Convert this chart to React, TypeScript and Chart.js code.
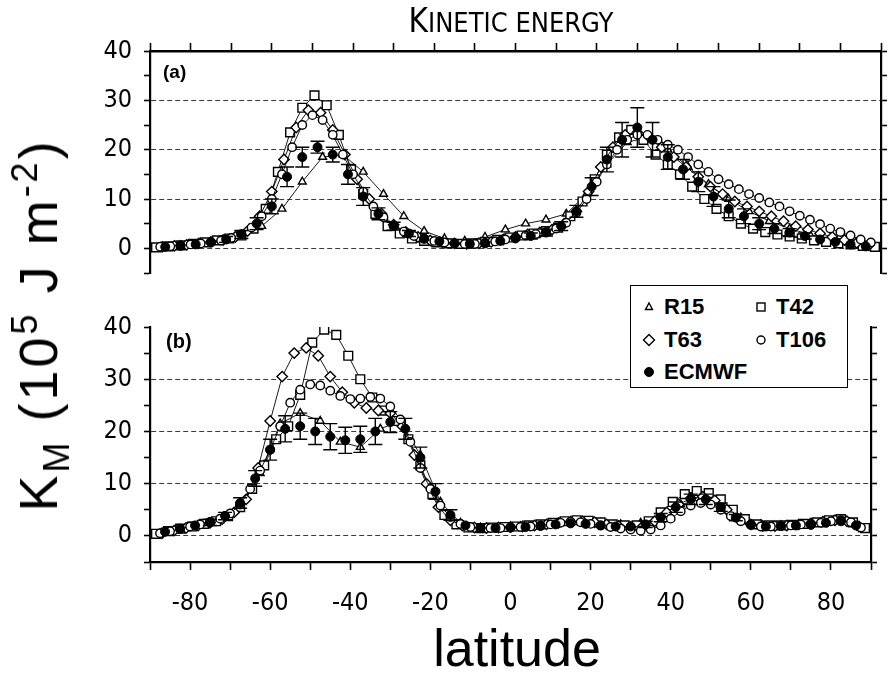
import React, { useEffect, useRef } from 'react';
import { Chart, registerables } from 'chart.js';

Chart.register(...registerables);

const FONT = "'Liberation Sans', Arial, Helvetica, sans-serif";
const NARROW = "'Liberation Sans Narrow', 'DejaVu Sans Condensed', 'Liberation Sans', sans-serif";

// ---------------- latitude grids ----------------
const latR15 = [-87.5, -82.5, -77.5, -72.5, -67.5, -62.5, -57.5, -52.5, -47.5, -42.5, -37.5, -32.5, -27.5, -22.5, -17.5, -12.5, -7.5, -2.5, 2.5, 7.5, 12.5, 17.5, 22.5, 27.5, 32.5, 37.5, 42.5, 47.5, 52.5, 57.5, 62.5, 67.5, 72.5, 77.5, 82.5, 87.5];
const latT42 = [-88.5, -85.5, -82.5, -79.5, -76.5, -73.5, -70.5, -67.5, -64.5, -61.5, -58.5, -55.5, -52.5, -49.5, -46.5, -43.5, -40.5, -37.5, -34.5, -31.5, -28.5, -25.5, -22.5, -19.5, -16.5, -13.5, -10.5, -7.5, -4.5, -1.5, 1.5, 4.5, 7.5, 10.5, 13.5, 16.5, 19.5, 22.5, 25.5, 28.5, 31.5, 34.5, 37.5, 40.5, 43.5, 46.5, 49.5, 52.5, 55.5, 58.5, 61.5, 64.5, 67.5, 70.5, 73.5, 76.5, 79.5, 82.5, 85.5, 88.5];
const latT63 = [-87, -84, -81, -78, -75, -72, -69, -66, -63, -60, -57, -54, -51, -48, -45, -42, -39, -36, -33, -30, -27, -24, -21, -18, -15, -12, -9, -6, -3, 0, 3, 6, 9, 12, 15, 18, 21, 24, 27, 30, 33, 36, 39, 42, 45, 48, 51, 54, 57, 60, 63, 66, 69, 72, 75, 78, 81, 84, 87];
const latT106 = [-87.5, -85, -82.5, -80, -77.5, -75, -72.5, -70, -67.5, -65, -62.5, -60, -57.5, -55, -52.5, -50, -47.5, -45, -42.5, -40, -37.5, -35, -32.5, -30, -27.5, -25, -22.5, -20, -17.5, -15, -12.5, -10, -7.5, -5, -2.5, 0, 2.5, 5, 7.5, 10, 12.5, 15, 17.5, 20, 22.5, 25, 27.5, 30, 32.5, 35, 37.5, 40, 42.5, 45, 47.5, 50, 52.5, 55, 57.5, 60, 62.5, 65, 67.5, 70, 72.5, 75, 77.5, 80, 82.5, 85, 87.5];
const latECMWF = [-86.25, -82.5, -78.75, -75, -71.25, -67.5, -63.75, -60, -56.25, -52.5, -48.75, -45, -41.25, -37.5, -33.75, -30, -26.25, -22.5, -18.75, -15, -11.25, -7.5, -3.75, 0, 3.75, 7.5, 11.25, 15, 18.75, 22.5, 26.25, 30, 33.75, 37.5, 41.25, 45, 48.75, 52.5, 56.25, 60, 63.75, 67.5, 71.25, 75, 78.75, 82.5, 86.25];

// ---------------- panel (a) ----------------
const r15A = [0.3, 0.6, 1.0, 1.5, 2.5, 4.5, 8.0, 13.5, 18.5, 19.0, 15.5, 11.0, 6.5, 3.5, 2.0, 1.5, 2.3, 3.8, 5.0, 5.8, 7.0, 11.0, 17.0, 21.5, 22.5, 20.0, 16.5, 13.0, 10.0, 7.5, 5.5, 4.0, 2.8, 1.8, 1.0, 0.5];
const t42A = [0.2, 0.4, 0.6, 0.9, 1.2, 1.6, 2.0, 2.6, 4.0, 8.0, 15.5, 23.5, 28.5, 31.0, 29.0, 23.0, 16.0, 11.0, 7.0, 4.5, 3.0, 2.0, 1.5, 1.2, 1.0, 0.9, 1.0, 1.3, 1.7, 2.2, 2.6, 3.0, 3.5, 4.2, 6.5, 9.5, 14.0, 19.0, 22.5, 24.0, 22.0, 19.0, 17.0, 15.0, 12.5, 10.0, 8.0, 6.5, 5.0, 4.0, 3.3, 2.8, 2.4, 2.0, 1.6, 1.3, 1.0, 0.8, 0.5, 0.3];
const t63A = [0.3, 0.5, 0.7, 1.0, 1.3, 1.7, 2.3, 3.5, 6.5, 11.5, 18.0, 24.5, 28.0, 27.5, 24.0, 19.0, 14.0, 10.0, 7.0, 4.8, 3.3, 2.3, 1.6, 1.2, 1.0, 0.9, 1.0, 1.3, 1.8, 2.3, 2.8, 3.2, 3.8, 5.0, 7.5, 11.5, 16.5, 20.5, 23.0, 23.5, 22.5, 20.5, 18.5, 16.5, 14.5, 12.5, 11.0, 9.5, 8.5, 7.5, 6.5, 5.5, 4.5, 3.8, 3.0, 2.3, 1.7, 1.1, 0.6];
const t106A = [0.3, 0.4, 0.6, 0.8, 1.0, 1.3, 1.6, 2.1, 2.9, 4.2, 6.5, 10.0, 15.0, 20.5, 25.0, 27.0, 26.0, 23.0, 19.0, 15.0, 11.5, 8.5, 6.3, 4.6, 3.4, 2.5, 1.9, 1.5, 1.2, 1.0, 0.9, 0.9, 1.1, 1.4, 1.8, 2.2, 2.6, 2.9, 3.3, 4.0, 5.2, 7.2, 10.0, 13.5, 17.0, 20.0, 22.0, 23.0, 23.0, 22.0, 21.0, 20.0, 18.5, 17.0, 15.5, 14.0, 13.0, 12.0, 11.0, 10.2, 9.3, 8.5, 7.5, 6.6, 5.8, 4.9, 4.0, 3.3, 2.6, 1.8, 1.2];
const ecmwfA = [0.3, 0.5, 0.8, 1.2, 1.8, 2.8, 5.0, 8.5, 14.5, 18.5, 20.5, 19.0, 15.0, 10.5, 7.0, 4.5, 3.0, 2.0, 1.4, 1.0, 0.9, 1.0, 1.5, 2.0, 2.5, 3.2, 4.5, 7.5, 12.5, 18.0, 22.0, 24.5, 22.0, 18.5, 16.0, 13.5, 10.5, 8.0, 6.5, 5.0, 4.0, 3.2, 2.5, 1.8, 1.3, 0.8, 0.4];
const ecmwfErrA = [0.3, 0.3, 0.4, 0.5, 0.6, 0.8, 1.2, 1.5, 2.0, 2.0, 1.2, 1.5, 2.0, 1.8, 1.2, 0.8, 0.6, 0.4, 0.3, 0.3, 0.3, 0.3, 0.4, 0.5, 0.6, 0.7, 0.9, 1.2, 1.8, 2.5, 3.5, 4.0, 3.5, 2.5, 2.0, 2.0, 2.0, 1.8, 1.5, 1.2, 1.0, 0.8, 0.6, 0.5, 0.4, 0.3, 0.3];

// ---------------- panel (b) ----------------
const r15B = [0.5, 1.2, 2.0, 3.0, 5.5, 12.0, 21.5, 23.5, 22.0, 18.0, 17.0, 20.5, 22.0, 15.5, 6.5, 2.5, 1.6, 1.6, 1.8, 2.0, 2.5, 2.8, 2.5, 2.2, 2.5, 4.0, 6.0, 7.0, 6.0, 3.5, 2.2, 2.0, 2.2, 2.5, 3.0, 1.5];
const t42B = [0.4, 0.9, 1.4, 1.8, 2.3, 2.8, 3.8, 5.5, 9.0, 13.5, 18.5, 21.0, 27.0, 37.0, 39.5, 38.5, 34.5, 30.0, 26.5, 24.0, 22.0, 18.5, 13.5, 8.0, 4.0, 2.2, 1.6, 1.5, 1.6, 1.7, 1.8, 2.0, 2.2, 2.5, 2.8, 3.0, 2.9, 2.6, 2.2, 2.0, 2.0, 2.8, 4.5, 6.5, 8.0, 8.6, 8.2, 7.0, 5.0, 3.2, 2.2, 2.0, 2.0, 2.1, 2.3, 2.6, 3.0, 3.2, 2.6, 1.5];
const t63B = [0.5, 1.0, 1.5, 2.0, 2.5, 3.2, 4.5, 7.0, 13.0, 22.0, 30.5, 35.0, 36.0, 34.5, 30.5, 27.5, 25.5, 24.5, 24.0, 23.5, 21.0, 15.5, 10.0, 5.5, 3.0, 2.0, 1.6, 1.5, 1.6, 1.7, 1.8, 2.0, 2.2, 2.5, 2.7, 2.8, 2.6, 2.2, 1.9, 1.7, 1.8, 2.8, 4.5, 6.0, 7.2, 7.5, 6.8, 5.0, 3.2, 2.2, 1.9, 1.9, 2.0, 2.2, 2.4, 2.7, 3.0, 2.8, 1.8];
const t106B = [0.5, 0.9, 1.3, 1.8, 2.2, 2.7, 3.3, 4.3, 6.0, 9.0, 12.5, 16.5, 21.0, 25.5, 28.0, 29.0, 28.8, 27.8, 26.8, 26.2, 26.3, 26.6, 26.3, 24.8, 22.3, 18.0, 13.0, 9.0, 5.8, 3.6, 2.3, 1.7, 1.5, 1.5, 1.5, 1.6, 1.7, 1.8, 2.0, 2.2, 2.5, 2.7, 2.6, 2.3, 2.0, 1.7, 1.4, 1.2, 1.0, 1.2, 2.0, 3.3, 4.7, 5.8, 6.3, 6.0, 5.0, 3.8, 2.8, 2.1, 1.8, 1.8, 1.9, 2.0, 2.2, 2.3, 2.5, 2.8, 3.0, 2.6, 1.6];
const ecmwfB = [0.8, 1.4, 2.0, 2.6, 3.8, 6.3, 11.0, 16.5, 20.5, 21.0, 20.0, 19.0, 18.3, 18.5, 20.0, 21.8, 20.5, 15.0, 8.5, 4.0, 2.0, 1.5, 1.5, 1.6, 1.7, 1.9, 2.2, 2.4, 2.3, 2.0, 1.8, 1.8, 2.2, 3.5, 5.5, 7.0, 7.0, 5.5, 3.5, 2.2, 1.8, 1.9, 2.0, 2.1, 2.5, 2.8, 2.0];
const ecmwfErrB = [0.3, 0.4, 0.5, 0.6, 0.7, 1.0, 1.5, 2.0, 2.5, 2.5, 2.5, 2.5, 2.5, 2.5, 2.5, 2.0, 2.0, 2.0, 1.5, 1.0, 0.5, 0.4, 0.4, 0.4, 0.4, 0.4, 0.5, 0.5, 0.5, 0.5, 0.5, 0.5, 0.6, 0.8, 1.0, 1.0, 1.0, 0.8, 0.6, 0.5, 0.5, 0.5, 0.5, 0.5, 0.5, 0.5, 0.4];

// axis ranges / ticks
const X_MIN = -90;
const X_MAX = 90;
const Y_MIN = -5;
const Y_MAX = 40;
const X_STEP = 10;
const Y_STEP = 5;

const pts = (lat: number[], v: number[]) => lat.map((x, i) => ({ x, y: v[i] }));

function errorBarPlugin(lat: number[], vals: number[], errs: number[], dsIndex: number) {
  return {
    id: 'ecmwfErrorBars',
    beforeDatasetDraw(chart: any, args: any) {
      if (args.index !== dsIndex) return;
      const { ctx } = chart;
      const xs = chart.scales.x;
      const ys = chart.scales.y;
      ctx.save();
      ctx.strokeStyle = '#000';
      ctx.lineWidth = 1.4;
      lat.forEach((la, i) => {
        if (errs[i] < 0.6) return;
        const px = xs.getPixelForValue(la);
        const top = ys.getPixelForValue(vals[i] + errs[i]);
        const bot = ys.getPixelForValue(vals[i] - errs[i]);
        ctx.beginPath();
        ctx.moveTo(px, top);
        ctx.lineTo(px, bot);
        ctx.moveTo(px - 7, top);
        ctx.lineTo(px + 7, top);
        ctx.moveTo(px - 7, bot);
        ctx.lineTo(px + 7, bot);
        ctx.stroke();
      });
      ctx.restore();
    },
  };
}

function makeConfig(panel: 'a' | 'b'): any {
  const isA = panel === 'a';
  const r15 = isA ? r15A : r15B;
  const t42 = isA ? t42A : t42B;
  const t63 = isA ? t63A : t63B;
  const t106 = isA ? t106A : t106B;
  const ec = isA ? ecmwfA : ecmwfB;
  const ecErr = isA ? ecmwfErrA : ecmwfErrB;

  const common = {
    showLine: true,
    borderColor: '#000',
    borderWidth: 0.9,
    pointBackgroundColor: '#fff',
    pointBorderColor: '#000',
    pointBorderWidth: 1.4,
  };

  const datasets = [
    { ...common, label: 'R15', data: pts(latR15, r15), pointStyle: 'triangle', pointRadius: 4.5, order: 4 },
    { ...common, label: 'T42', data: pts(latT42, t42), pointStyle: 'rect', pointRadius: 6.2, order: 3 },
    { ...common, label: 'T63', data: pts(latT63, t63), pointStyle: 'rectRot', pointRadius: 5.2, order: 2 },
    { ...common, label: 'T106', data: pts(latT106, t106), pointStyle: 'circle', pointRadius: 4.2, order: 1 },
    {
      label: 'ECMWF', data: pts(latECMWF, ec), showLine: false, pointStyle: 'circle', pointRadius: 4.5,
      pointBackgroundColor: '#000', pointBorderColor: '#000', pointBorderWidth: 1, order: 0,
    },
  ];

  const yGridColor = (ctx: any) => {
    const v = ctx.tick && ctx.tick.value;
    return v >= 0 && v <= 30 && v % 10 === 0 ? '#3a3a3a' : 'rgba(0,0,0,0)';
  };

  const scales: any = {
    x: {
      type: 'linear',
      position: 'bottom',
      min: X_MIN,
      max: X_MAX,
      display: !isA,
      ticks: {
        stepSize: X_STEP,
        autoSkip: false,
        maxRotation: 0,
        callback: (v: number) => (v % 20 === 0 && Math.abs(v) < 90 ? String(v) : ''),
        font: { size: 25, family: NARROW },
        color: '#000',
        padding: 18,
      },
      grid: { drawOnChartArea: false, tickLength: 8, tickColor: '#000', tickWidth: 1.6 },
      border: { color: '#000', width: 2.2 },
      afterFit: (s: any) => { s.height = isA ? 0 : 118; },
    },
    y: {
      type: 'linear',
      position: 'left',
      min: Y_MIN,
      max: Y_MAX,
      ticks: {
        stepSize: Y_STEP,
        autoSkip: false,
        callback: (v: number) => (v % 10 === 0 && v >= 0 ? String(v) : ''),
        font: { size: 25, family: NARROW },
        color: '#000',
        padding: 12,
      },
      grid: { color: yGridColor, lineWidth: 1, tickColor: '#000', tickLength: 6, tickWidth: 1.6 },
      border: { color: '#000', width: 2.2, dash: [5, 3] },
      afterFit: (s: any) => { s.width = 150; },
    },
    yR: {
      type: 'linear',
      position: 'right',
      min: Y_MIN,
      max: Y_MAX,
      ticks: { display: false, stepSize: Y_STEP },
      grid: { drawOnChartArea: false, tickLength: 6, tickColor: '#000', tickWidth: 1.6 },
      border: { color: '#000', width: 2.2 },
      afterFit: (s: any) => { s.width = 8; },
    },
  };

  if (isA) {
    scales.xTop = {
      type: 'linear',
      position: 'top',
      min: X_MIN,
      max: X_MAX,
      ticks: { display: false, stepSize: X_STEP },
      grid: { drawOnChartArea: false, tickLength: 8, tickColor: '#000', tickWidth: 1.6 },
      border: { color: '#000', width: 2.6 },
      afterFit: (s: any) => { s.height = 8; },
    };
  }

  return {
    type: 'scatter',
    data: { datasets },
    options: {
      animation: false,
      responsive: false,
      maintainAspectRatio: false,
      devicePixelRatio: 1,
      layout: { padding: isA ? { top: 43, bottom: 11, left: 0, right: 0 } : { top: 25, bottom: 0, left: 0, right: 0 } },
      plugins: { legend: { display: false }, tooltip: { enabled: false }, title: { display: false } },
      scales,
    },
    plugins: [errorBarPlugin(latECMWF, ec, ecErr, 4)],
  };
}

const Sym = ({ kind }: { kind: string }) => {
  const s = { stroke: '#000', strokeWidth: 1.4, fill: '#fff' } as any;
  return (
    <svg width={14} height={14} viewBox="0 0 14 14" style={{ display: 'block' }}>
      {kind === 'tri' && <polygon points="7,3 10.5,9.5 3.5,9.5" {...s} />}
      {kind === 'sq' && <rect x={3} y={3} width={8} height={8} {...s} />}
      {kind === 'dia' && <polygon points="7,1.5 12.5,7 7,12.5 1.5,7" {...s} />}
      {kind === 'cir' && <circle cx={7} cy={7} r={4} {...s} />}
      {kind === 'dot' && <circle cx={7} cy={7} r={4.5} fill="#000" stroke="#000" />}
    </svg>
  );
};

const legendItems = [
  { kind: 'tri', label: 'R15', col: 0, row: 0 },
  { kind: 'sq', label: 'T42', col: 1, row: 0 },
  { kind: 'dia', label: 'T63', col: 0, row: 1 },
  { kind: 'cir', label: 'T106', col: 1, row: 1 },
  { kind: 'dot', label: 'ECMWF', col: 0, row: 2 },
];

export default function App() {
  const refA = useRef<HTMLCanvasElement>(null);
  const refB = useRef<HTMLCanvasElement>(null);

  useEffect(() => {
    const a = new Chart(refA.current as HTMLCanvasElement, makeConfig('a'));
    const b = new Chart(refB.current as HTMLCanvasElement, makeConfig('b'));
    return () => {
      a.destroy();
      b.destroy();
    };
  }, []);

  const abs = (l: number, t: number, extra: any = {}) => ({ position: 'absolute', left: l, top: t, ...extra } as any);

  return (
    <div style={{ position: 'absolute', left: 0, top: 0, width: 889, height: 680, background: '#fff', overflow: 'hidden', fontFamily: FONT, color: '#000' }}>
      <canvas ref={refA} width={889} height={300} style={abs(0, 0, { width: 889, height: 300 })} />
      <canvas ref={refB} width={889} height={380} style={abs(0, 300, { width: 889, height: 380 })} />

      {/* title */}
      <div style={abs(511, 4, { transform: 'translateX(-50%)', whiteSpace: 'nowrap', lineHeight: 1, fontFamily: NARROW })}>
        <span style={{ fontSize: 33 }}>K</span>
        <span style={{ fontSize: 27 }}>INETIC ENERGY</span>
      </div>

      {/* panel labels */}
      <div style={abs(163, 62, { fontSize: 19, fontWeight: 'bold', lineHeight: 1 })}>(a)</div>
      <div style={abs(166, 331, { fontSize: 20, fontWeight: 'bold', lineHeight: 1 })}>(b)</div>

      {/* y-axis title */}
      <div style={abs(38, 325, { transform: 'translate(-50%, -50%) rotate(-90deg)', whiteSpace: 'nowrap', fontSize: 54, lineHeight: 1, letterSpacing: 3 })}>
        K<span style={{ fontSize: 36, position: 'relative', top: 12 }}>M</span> (10<span style={{ fontSize: 36, position: 'relative', top: -20 }}>5</span> J m<span style={{ fontSize: 36, position: 'relative', top: -20 }}>-2</span>)
      </div>

      {/* x-axis title */}
      <div style={abs(517, 622, { transform: 'translateX(-50%)', whiteSpace: 'nowrap', fontSize: 52, lineHeight: 1 })}>latitude</div>

      {/* legend */}
      <div style={abs(630, 285, { width: 216, height: 101, border: '1.5px solid #000', background: '#fff' })}>
        {legendItems.map((it) => (
          <div key={it.label} style={abs(it.col === 0 ? 11 : 123, 9 + it.row * 32.5, { display: 'flex', alignItems: 'center', height: 24 })}>
            <Sym kind={it.kind} />
            <span style={{ marginLeft: 8, fontSize: 22, fontWeight: 'bold', lineHeight: 1 }}>{it.label}</span>
          </div>
        ))}
      </div>
    </div>
  );
}
